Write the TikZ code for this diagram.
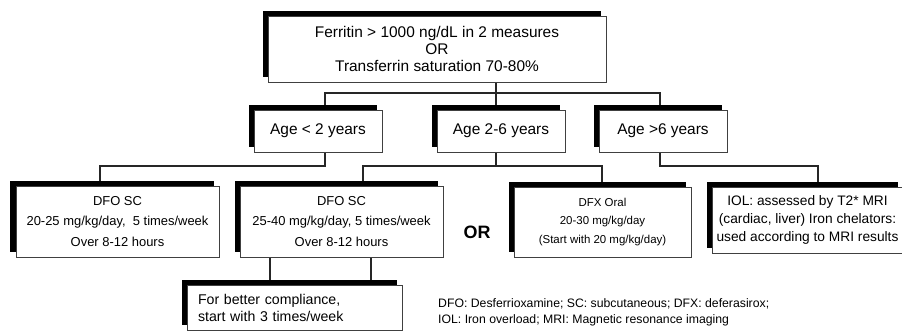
\documentclass[tikz,border=0pt]{standalone}
\usepackage{fontspec}
\setmainfont{Liberation Sans}
\usetikzlibrary{shadows,backgrounds}
\begin{document}
\begin{tikzpicture}[x=1bp,y=-1bp,
  box/.style={draw=black!75, line width=0.8bp, fill=white, inner sep=0pt, outer sep=0pt, align=center,
    general shadow={fill=black, draw=none, shadow xshift=-5.5bp, shadow yshift=5bp}},
  conn/.style={line width=1.8bp, draw=black!85},
  big/.style={font=\fontsize{15.5}{17.5}\selectfont},
  agef/.style={font=\fontsize{15.5}{17.5}\selectfont},
  dfof/.style={font=\fontsize{13}{20.5}\selectfont},
  dfxf/.style={font=\fontsize{11.5}{19}\selectfont},
  iolf/.style={font=\fontsize{13.8}{18.5}\selectfont},
  leg/.style={font=\fontsize{12.3}{14}\selectfont, anchor=base west, inner sep=0pt},
]
\useasboundingbox (0,0) rectangle (902,331);

\node[box,big,minimum width=338bp,minimum height=66bp] (top) at (437,49)
  {Ferritin > 1000 ng/dL in 2 measures\\OR\\Transferrin saturation 70-80\%};

\node[box,agef,minimum width=128bp,minimum height=42bp] (age1) at (318,131) {Age < 2 years};
\node[box,agef,minimum width=128bp,minimum height=42bp] (age2) at (501,131) {Age 2-6 years};
\node[box,agef,minimum width=128bp,minimum height=42bp] (age3) at (663,131) {Age >6 years};

\node[box,dfof,minimum width=203bp,minimum height=71bp] (dfo1) at (117.5,221.5)
  {DFO SC\\20-25 mg/kg/day,\ \ 5 times/week\\Over 8-12 hours};
\node[box,dfof,minimum width=203bp,minimum height=71bp] (dfo2) at (341.5,221.5)
  {DFO SC\\25-40 mg/kg/day, 5 times/week\\Over 8-12 hours};
\node[box,dfxf,minimum width=177bp,minimum height=70bp] (dfx) at (602.5,222)
  {DFX Oral\\20-30 mg/kg/day\\(Start with 20 mg/kg/day)};
\node[box,iolf,minimum width=191bp,minimum height=66bp] (iol) at (807.5,220)
  {IOL: assessed by T2* MRI\\(cardiac, liver) Iron chelators:\\used according to MRI results};

\node[box,font=\fontsize{14.2}{17}\selectfont,align=left,text width=193bp,inner xsep=11bp,
  minimum height=45bp] (comp) at (294.5,307.5)
  {For better compliance,\\start with 3 times/week};

\node[font=\fontsize{18}{18}\bfseries\selectfont] (or) at (477,232) {OR};

\node[leg] (leg1) at (438,307) {DFO: Desferrioxamine; SC: subcutaneous; DFX: deferasirox;};
\node[leg] (leg2) at (438,323) {IOL: Iron overload; MRI: Magnetic resonance imaging};

\begin{scope}[on background layer]
  \coordinate (tA) at (325,93);
  \coordinate (tB) at (496,93);
  \coordinate (tC) at (660,93);
  \draw[conn] (tA |- age1.north) -- (tA) -- (tC) -- (tC |- age3.north);
  \draw[conn] (tB |- top.south) -- (tB |- age2.north);

  \coordinate (a1) at (325,166);
  \coordinate (d1) at (100,166);
  \draw[conn] (a1 |- age1.south) -- (a1) -- (d1) -- (d1 |- dfo1.north);

  \coordinate (a2) at (496,166);
  \coordinate (b2l) at (363,166);
  \coordinate (b2r) at (602,166);
  \draw[conn] (a2 |- age2.south) -- (a2);
  \draw[conn] (b2l |- dfo2.north) -- (b2l) -- (b2r) -- (b2r |- dfx.north);

  \coordinate (a3) at (660,166);
  \coordinate (c3) at (818,166);
  \draw[conn] (a3 |- age3.south) -- (a3) -- (c3) -- (c3 |- iol.north);

  \coordinate (e1) at (270,270);
  \coordinate (e2) at (371,270);
  \draw[conn] (e1 |- dfo2.south) -- (e1 |- comp.north);
  \draw[conn] (e2 |- dfo2.south) -- (e2 |- comp.north);
\end{scope}
\end{tikzpicture}
\end{document}
